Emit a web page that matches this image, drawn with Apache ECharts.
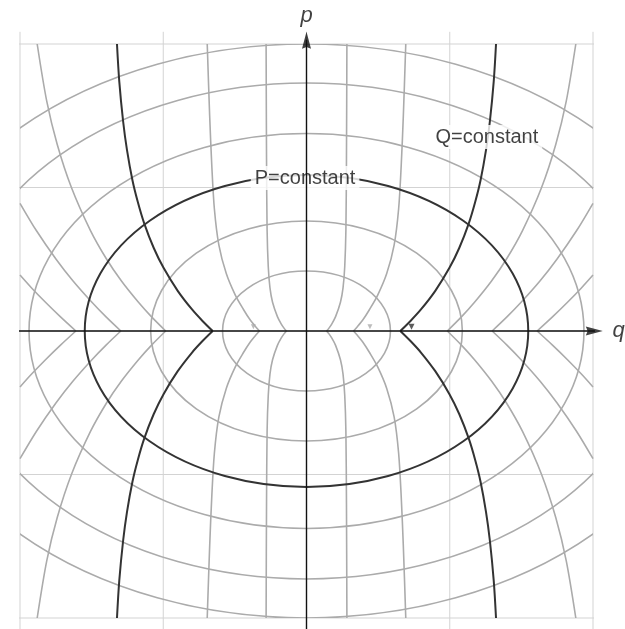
<!DOCTYPE html>
<html>
<head>
<meta charset="utf-8">
<script src="https://cdn.jsdelivr.net/npm/echarts@6/dist/echarts.min.js"></script>
<style>
html,body{margin:0;padding:0;background:#fff;}
#chart{width:625px;height:629px;}
</style>
</head>
<body>
<div id="chart"></div>
<script>
// ---------- data (units: one grid cell = 1) ----------
const gridTicks = [-2, -1, 0, 1, 2];
const gridExtentQ = [-2.08, 2.08];    // horizontal grid lines run a little past the frame
const gridExtentP = [-2.1, 2.085];    // vertical grid lines likewise

// P = constant : ellipses (semi-axis along q, semi-axis along p)
const ellipseA = [0.586, 1.088, 1.548, 1.937, 2.444, 2.83];
const ellipseB = [0.418, 0.767, 1.087, 1.376, 1.728, 2.0];
const darkEllipseIndex = 2;

// Q = constant : curves, first-quadrant samples (p, q); mirrored into the other quadrants
const qCurveP = [
  [0, 0.02, 0.05, 0.1, 0.2, 0.3, 0.45, 0.7, 1.2, 2.0],
  [0, 0.03, 0.08, 0.15, 0.25, 0.4, 0.6, 0.85, 1.15, 1.5, 2.0],
  [0, 0.07, 0.15, 0.28, 0.44, 0.58, 0.75, 0.9, 1.05, 1.26, 1.46, 1.74, 2.0],
  [0, 0.1, 0.2, 0.35, 0.5, 0.7, 1.0, 1.3, 1.6, 2.0],
  [0, 0.1, 0.2, 0.35, 0.5, 0.7, 0.89],
  [0, 0.1, 0.2, 0.3, 0.39]
];
const qCurveQ = [
  [0.14, 0.157, 0.177, 0.203, 0.237, 0.255, 0.267, 0.275, 0.279, 0.282],
  [0.328, 0.355, 0.395, 0.44, 0.497, 0.56, 0.612, 0.643, 0.661, 0.676, 0.693],
  [0.655, 0.726, 0.799, 0.899, 0.998, 1.067, 1.133, 1.178, 1.215, 1.253, 1.28, 1.307, 1.323],
  [0.983, 1.083, 1.173, 1.293, 1.395, 1.508, 1.641, 1.74, 1.813, 1.88],
  [1.296, 1.401, 1.498, 1.631, 1.748, 1.886, 2.0],
  [1.61, 1.719, 1.822, 1.919, 2.0]
];
const darkQIndex = 2;

// text
const curveLabels = [
  {text: 'P=constant', q: -0.01, p: 1.066},
  {text: 'Q=constant', q: 1.259, p: 1.352}
];
const axisNames = [
  {text: 'q', q: 2.178, p: 0.0},
  {text: 'p', q: 0.0, p: 2.195}
];
// axis lines and arrow heads
const qAxisSpan = [-2.085, 2.02];
const pAxisSpan = [-2.1, 2.03];
const arrowHeads = [
  {q: 2.009, p: 0, rot: -90},
  {q: 0, p: 2.026, rot: 0}
];
// small direction marks on the q axis
const axisMarksGray = [[-0.371, 0.03], [0.443, 0.03]];
const axisMarksDark = [[0.733, 0.03]];

// ---------- styles ----------
const GRID_COLOR = '#d3d3d3';
const GRAY = '#ababab';
const DARK = '#333333';
const AXIS = '#111111';
const FONT = '"Liberation Sans", Arial, Helvetica, sans-serif';

// ---------- build series ----------
const series = [];

gridTicks.forEach(function (t) {
  series.push({
    type: 'line', silent: true, clip: false, symbol: 'none', z: 1,
    lineStyle: {color: GRID_COLOR, width: 1},
    data: [[gridExtentQ[0], t], [gridExtentQ[1], t]]
  });
  series.push({
    type: 'line', silent: true, clip: false, symbol: 'none', z: 1,
    lineStyle: {color: GRID_COLOR, width: 1},
    data: [[t, gridExtentP[0]], [t, gridExtentP[1]]]
  });
});

function ellipsePath(cx, cy, rx, ry) {
  return 'M' + (cx - rx) + ',' + cy +
    ' A' + rx + ',' + ry + ' 0 1 0 ' + (cx + rx) + ',' + cy +
    ' A' + rx + ',' + ry + ' 0 1 0 ' + (cx - rx) + ',' + cy + ' Z';
}
function ellipseSeries(items, color, width, z) {
  return {
    type: 'custom', coordinateSystem: 'cartesian2d', clip: true, silent: true, z: z,
    data: items,
    renderItem: function (params, api) {
      const c = api.coord([0, 0]);
      const s = api.size([api.value(0), api.value(1)]);
      return {
        type: 'path',
        shape: {pathData: ellipsePath(c[0], c[1], s[0], s[1])},
        style: {fill: 'none', stroke: color, lineWidth: width}
      };
    }
  };
}
const grayEll = [], darkEll = [];
ellipseA.forEach(function (a, i) {
  (i === darkEllipseIndex ? darkEll : grayEll).push([a, ellipseB[i]]);
});
series.push(ellipseSeries(grayEll, GRAY, 1.6, 2));
series.push(ellipseSeries(darkEll, DARK, 2, 4));

qCurveP.forEach(function (ps, ci) {
  const qs = qCurveQ[ci];
  const dark = ci === darkQIndex;
  [1, -1].forEach(function (sq) {
    [1, -1].forEach(function (sp) {
      series.push({
        type: 'line', silent: true, symbol: 'none', smooth: 0.3, clip: true,
        z: dark ? 4 : 2,
        lineStyle: {color: dark ? DARK : GRAY, width: dark ? 2 : 1.6},
        data: ps.map(function (p, k) { return [sq * qs[k], sp * p]; })
      });
    });
  });
});

// curve labels with white box
series.push({
  type: 'scatter', silent: true, clip: false, z: 6, symbolSize: 1,
  itemStyle: {color: 'rgba(0,0,0,0)'},
  data: curveLabels.map(function (l) { return [l.q, l.p, l.text]; }),
  label: {
    show: true, position: 'inside', formatter: function (d) { return d.value[2]; },
    fontFamily: FONT, fontSize: 20, color: '#111111',
    backgroundColor: '#ffffff', padding: [2, 4, 2, 4]
  }
});

// axes
series.push({
  type: 'line', silent: true, clip: false, symbol: 'none', z: 8,
  lineStyle: {color: AXIS, width: 1.4},
  data: [[qAxisSpan[0], 0], [qAxisSpan[1], 0]]
});
series.push({
  type: 'line', silent: true, clip: false, symbol: 'none', z: 8,
  lineStyle: {color: AXIS, width: 1.4},
  data: [[0, pAxisSpan[0]], [0, pAxisSpan[1]]]
});
arrowHeads.forEach(function (h) {
  series.push({
    type: 'scatter', silent: true, clip: false, z: 9,
    symbol: 'path://M5,0 L10,18 L5,16 L0,18 Z', symbolSize: [9, 17], symbolRotate: h.rot,
    itemStyle: {color: AXIS},
    data: [[h.q, h.p]]
  });
});
series.push({
  type: 'scatter', silent: true, clip: false, z: 9, symbolSize: 1,
  itemStyle: {color: 'rgba(0,0,0,0)'},
  data: axisNames.map(function (l) { return [l.q, l.p, l.text]; }),
  label: {
    show: true, position: 'inside', formatter: function (d) { return d.value[2]; },
    fontFamily: FONT, fontSize: 22, fontStyle: 'italic', color: '#111111'
  }
});
series.push({
  type: 'scatter', silent: true, clip: false, z: 7, symbol: 'triangle', symbolRotate: 180,
  symbolSize: [5, 5], itemStyle: {color: GRAY}, data: axisMarksGray
});
series.push({
  type: 'scatter', silent: true, clip: false, z: 7, symbol: 'triangle', symbolRotate: 180,
  symbolSize: [6, 6], itemStyle: {color: DARK}, data: axisMarksDark
});

const chart = echarts.init(document.getElementById('chart'), null, {renderer: 'canvas'});
chart.setOption({
  animation: false,
  backgroundColor: '#ffffff',
  grid: {left: 20, top: 44, width: 573, height: 574},
  xAxis: {type: 'value', min: -2, max: 2, interval: 1, show: false},
  yAxis: {type: 'value', min: -2, max: 2, interval: 1, show: false},
  series: series
});
</script>
</body>
</html>
